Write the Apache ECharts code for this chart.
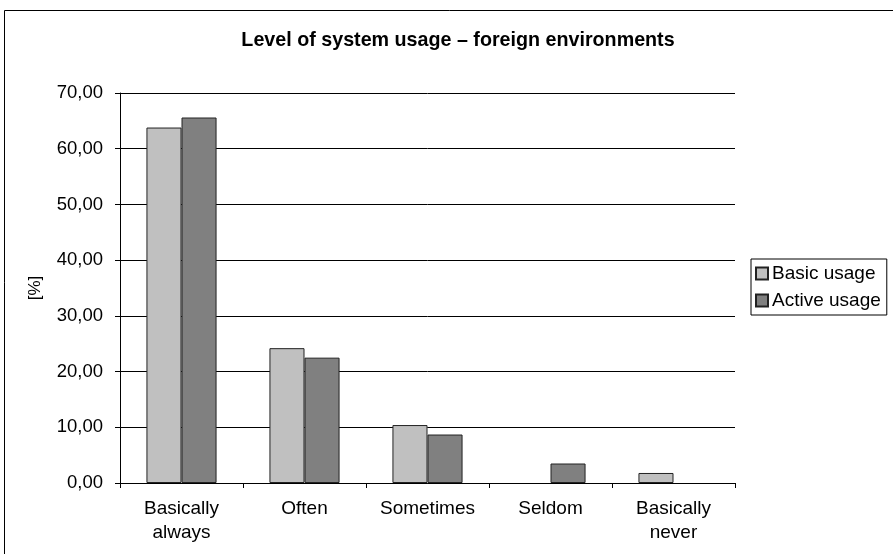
<!DOCTYPE html>
<html>
<head>
<meta charset="utf-8">
<style>
  html, body { margin: 0; padding: 0; background: #fff; }
  #chart { width: 893px; height: 554px; }
</style>
<script src="https://cdn.jsdelivr.net/npm/echarts@6/dist/echarts.min.js"></script>
</head>
<body>
<div id="chart"></div>
<script>
// Share of respondents per usage level, in percent
const categories = ['Basically\nalways', 'Often', 'Sometimes', 'Seldom', 'Basically\nnever'];
const basicUsage = [63.8, 24.2, 10.4, 0, 1.8];
const activeUsage = [65.6, 22.5, 8.7, 3.5, 0];
const seriesNames = ['Basic usage', 'Active usage'];
const yTicks = { min: 0, max: 70, interval: 10 };

const FONT = '"Liberation Sans", Arial, sans-serif';
const chart = echarts.init(document.getElementById('chart'), null, { renderer: 'canvas' });

// Zero-height bars get no outline, so they leave no stray line on the baseline
const toBarData = values => values.map(v => ({
  value: v,
  itemStyle: { borderWidth: v === 0 ? 0 : 1 }
}));

chart.setOption({
  backgroundColor: '#fff',
  animation: false,
  textStyle: { fontFamily: FONT, color: '#000' },
  title: {
    text: 'Level of system usage – foreign environments',
    left: 453, top: 26, textAlign: 'center',
    textStyle: { fontFamily: FONT, fontWeight: 'bold', fontSize: 19.7, color: '#000' }
  },
  graphic: [{
    type: 'rect', silent: true, z: -1,
    shape: { x: 4.5, y: 10.5, width: 1000, height: 1000 },
    style: { fill: 'none', stroke: '#000', lineWidth: 1 }
  }],
  legend: {
    orient: 'vertical',
    left: 751, top: 259,
    padding: [4, 6, 4, 4],
    itemGap: 6,
    itemWidth: 12, itemHeight: 12,
    borderColor: '#000', borderWidth: 1,
    icon: 'rect',
    textStyle: { fontFamily: FONT, fontSize: 19, color: '#000', padding: [0, 0, 0, -1], lineHeight: 21 },
    data: seriesNames
  },
  grid: { left: 120, top: 93, width: 615, height: 390, containLabel: false },
  xAxis: {
    type: 'category',
    data: categories,
    axisLine: { lineStyle: { color: '#000', width: 1 } },
    axisTick: { show: true, length: 5, inside: false, alignWithLabel: false, lineStyle: { color: '#000' } },
    axisLabel: { fontFamily: FONT, fontSize: 19, color: '#000', margin: 14, lineHeight: 24, interval: 0 }
  },
  yAxis: {
    type: 'value',
    min: yTicks.min, max: yTicks.max, interval: yTicks.interval,
    name: '[%]',
    nameLocation: 'middle',
    nameGap: 76,
    nameRotate: 90,
    nameTextStyle: { fontFamily: FONT, fontSize: 17, color: '#000' },
    axisLine: { show: true, lineStyle: { color: '#000', width: 1 } },
    axisTick: { show: true, length: 5, lineStyle: { color: '#000' } },
    axisLabel: {
      fontFamily: FONT, fontSize: 18.5, color: '#000', margin: 17,
      formatter: v => v.toFixed(2).replace('.', ',')
    },
    splitLine: { show: true, lineStyle: { color: '#000', width: 1 } }
  },
  series: [
    {
      name: seriesNames[0], type: 'bar', data: toBarData(basicUsage),
      barGap: '0%', barCategoryGap: '43%',
      itemStyle: { color: '#c0c0c0', borderColor: '#222', borderWidth: 1 }
    },
    {
      name: seriesNames[1], type: 'bar', data: toBarData(activeUsage),
      barGap: '0%', barCategoryGap: '43%',
      itemStyle: { color: '#808080', borderColor: '#222', borderWidth: 1 }
    }
  ]
});
</script>
</body>
</html>
